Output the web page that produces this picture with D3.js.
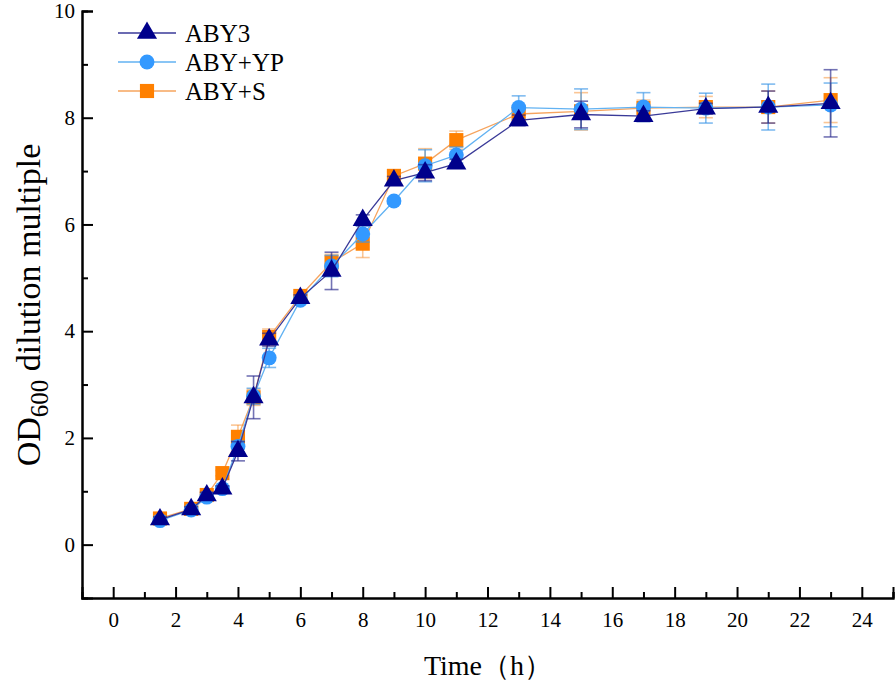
<!DOCTYPE html>
<html>
<head>
<meta charset="utf-8">
<script src="https://cdn.jsdelivr.net/npm/d3@7"></script>
<style>
  body { margin: 0; background: #fff; }
  svg { display: block; }
  text { font-family: "Liberation Serif", "Times New Roman", serif; }
</style>
</head>
<body>
<svg id="chart"></svg>
<script>
var width = 896;
var height = 683;

// sampling times (h)
var times = [1.5, 2.5, 3, 3.5, 4, 4.5, 5, 6, 7, 8, 9, 10, 11, 13, 15, 17, 19, 21, 23];

var aby3   = [0.47, 0.66, 0.92, 1.05, 1.75, 2.76, 3.84, 4.62, 5.13, 6.08, 6.82, 6.97, 7.14, 7.95, 8.06, 8.03, 8.17, 8.2, 8.27];
var aby3Sd = [0.05, 0.05, 0.06, 0.05, 0.18, 0.4, 0.12, 0.06, 0.35, 0.1, 0.08, 0.15, 0.08, 0.1, 0.25, 0.1, 0.1, 0.3, 0.63];

var abyYp   = [0.45, 0.65, 0.89, 1.05, 1.84, 2.78, 3.5, 4.58, 5.22, 5.82, 6.44, 7.1, 7.3, 8.19, 8.16, 8.2, 8.18, 8.2, 8.24];
var abyYpSd = [0.05, 0.05, 0.05, 0.05, 0.1, 0.15, 0.18, 0.06, 0.2, 0.15, 0.05, 0.3, 0.15, 0.22, 0.38, 0.27, 0.28, 0.43, 0.41];

var abyS   = [0.49, 0.67, 0.93, 1.34, 2.02, 2.76, 3.89, 4.66, 5.29, 5.64, 6.91, 7.14, 7.58, 8.07, 8.12, 8.18, 8.2, 8.2, 8.33];
var abySSd = [0.05, 0.05, 0.05, 0.05, 0.22, 0.15, 0.15, 0.06, 0.15, 0.26, 0.08, 0.28, 0.17, 0.15, 0.35, 0.15, 0.2, 0.3, 0.42];

var seriesNames = ['ABY3', 'ABY+YP', 'ABY+S'];
var xTicks = [0, 2, 4, 6, 8, 10, 12, 14, 16, 18, 20, 22, 24];
var yTicks = [0, 2, 4, 6, 8, 10];

var margin = {top: 11, left: 82, right: 3, bottom: 85};

var x = d3.scaleLinear()
    .domain([-1, 25])
    .range([margin.left, width - margin.right]);

var y = d3.scaleLinear()
    .domain([-1, 10])
    .range([height - margin.bottom, margin.top]);

const svg = d3.select('#chart')
    .attr('width', width)
    .attr('height', height);

// series: drawn S first, then YP, then ABY3 on top
var series = [
  {name: seriesNames[2], vals: abyS,  sd: abySSd,  line: '#f6a45e', marker: '#ff8000', err: 'rgba(245,150,60,0.55)', shape: d3.symbolSquare, size: 200},
  {name: seriesNames[1], vals: abyYp, sd: abyYpSd, line: '#62b2f2', marker: '#3399ff', err: 'rgba(60,150,230,0.65)', shape: d3.symbolCircle, size: 175},
  {name: seriesNames[0], vals: aby3,  sd: aby3Sd,  line: '#3a3a98', marker: '#00008b', err: 'rgba(40,40,140,0.65)', shape: d3.symbolTriangle, size: 175}
];

var line = d3.line()
    .x(d => x(d[0]))
    .y(d => y(d[1]));

series.forEach(function(s) {
  var pts = times.map((t, i) => [t, s.vals[i], s.sd[i]]);
  var g = svg.append('g').attr('class', 'series');

  g.append('path')
      .datum(pts)
      .attr('fill', 'none')
      .attr('stroke', s.line)
      .attr('stroke-width', 1.3)
      .attr('d', line);

  var eb = g.selectAll('g.err')
      .data(pts)
      .join('g')
      .attr('class', 'err')
      .attr('stroke', s.err)
      .attr('stroke-width', 1.6);
  eb.append('line')
      .attr('x1', d => x(d[0])).attr('x2', d => x(d[0]))
      .attr('y1', d => y(d[1] - d[2])).attr('y2', d => y(d[1] + d[2]));
  eb.append('line')
      .attr('x1', d => x(d[0]) - 7).attr('x2', d => x(d[0]) + 7)
      .attr('y1', d => y(d[1] + d[2])).attr('y2', d => y(d[1] + d[2]));
  eb.append('line')
      .attr('x1', d => x(d[0]) - 7).attr('x2', d => x(d[0]) + 7)
      .attr('y1', d => y(d[1] - d[2])).attr('y2', d => y(d[1] - d[2]));

  g.selectAll('path.mk')
      .data(pts)
      .join('path')
      .attr('class', 'mk')
      .attr('fill', s.marker)
      .attr('transform', d => `translate(${x(d[0])},${y(d[1])})`)
      .attr('d', d3.symbol().type(s.shape).size(s.size));
});

// axes
const xAxis = d3.axisBottom(x).tickValues(xTicks).tickSize(-11).tickPadding(14).tickFormat(d3.format('d'));
const xMinor = d3.axisBottom(x).tickValues(d3.range(1, 26, 2)).tickSize(-6).tickFormat('');
const yAxis = d3.axisLeft(y).tickValues(yTicks).tickSize(-11).tickPadding(7).tickFormat(d3.format('d'));
const yMinor = d3.axisLeft(y).tickValues(d3.range(1, 10, 2)).tickSize(-6).tickFormat('');

function styleAxis(g) {
  g.attr('font-family', null);
  g.select('.domain').attr('stroke', '#000').attr('stroke-width', 2);
  g.selectAll('.tick line').attr('stroke', '#000').attr('stroke-width', 2);
  g.selectAll('.tick text').attr('fill', '#000').attr('font-size', 21);
}

svg.append('g')
    .attr('transform', `translate(0,${y(-1)})`)
    .call(xMinor).call(styleAxis);
svg.append('g')
    .attr('class', 'x axis')
    .attr('transform', `translate(0,${y(-1)})`)
    .call(xAxis).call(styleAxis);
svg.append('g')
    .attr('transform', `translate(${x(-1)},0)`)
    .call(yMinor).call(styleAxis);
svg.append('g')
    .attr('class', 'y axis')
    .attr('transform', `translate(${x(-1)},0)`)
    .call(yAxis).call(styleAxis);

// axis titles
svg.append('text')
    .attr('x', 488)
    .attr('y', 675)
    .attr('text-anchor', 'middle')
    .attr('font-size', 28)
    .text('Time（h）');

var yTitle = svg.append('text')
    .attr('transform', 'translate(40,305) rotate(-90)')
    .attr('text-anchor', 'middle')
    .attr('font-size', 34);
yTitle.append('tspan').text('OD');
yTitle.append('tspan').attr('font-size', 25).attr('dy', 8).text('600');
yTitle.append('tspan').attr('dy', -8).text(' dilution multiple');

// legend
var legendOrder = [series[2], series[1], series[0]];
const legend = svg.append('g')
    .selectAll('g')
    .data(legendOrder)
    .join('g')
    .attr('transform', (d, i) => `translate(118,${33 + i * 29})`);

legend.append('line')
    .attr('x1', 0).attr('x2', 58)
    .attr('stroke', d => d.line)
    .attr('stroke-width', 1.3);
legend.append('path')
    .attr('transform', 'translate(29,0)')
    .attr('fill', d => d.marker)
    .attr('d', d => d3.symbol().type(d.shape).size(d.size)());
legend.append('text')
    .attr('x', 67)
    .attr('dy', '0.35em')
    .attr('font-size', 25)
    .text(d => d.name);
</script>
</body>
</html>
